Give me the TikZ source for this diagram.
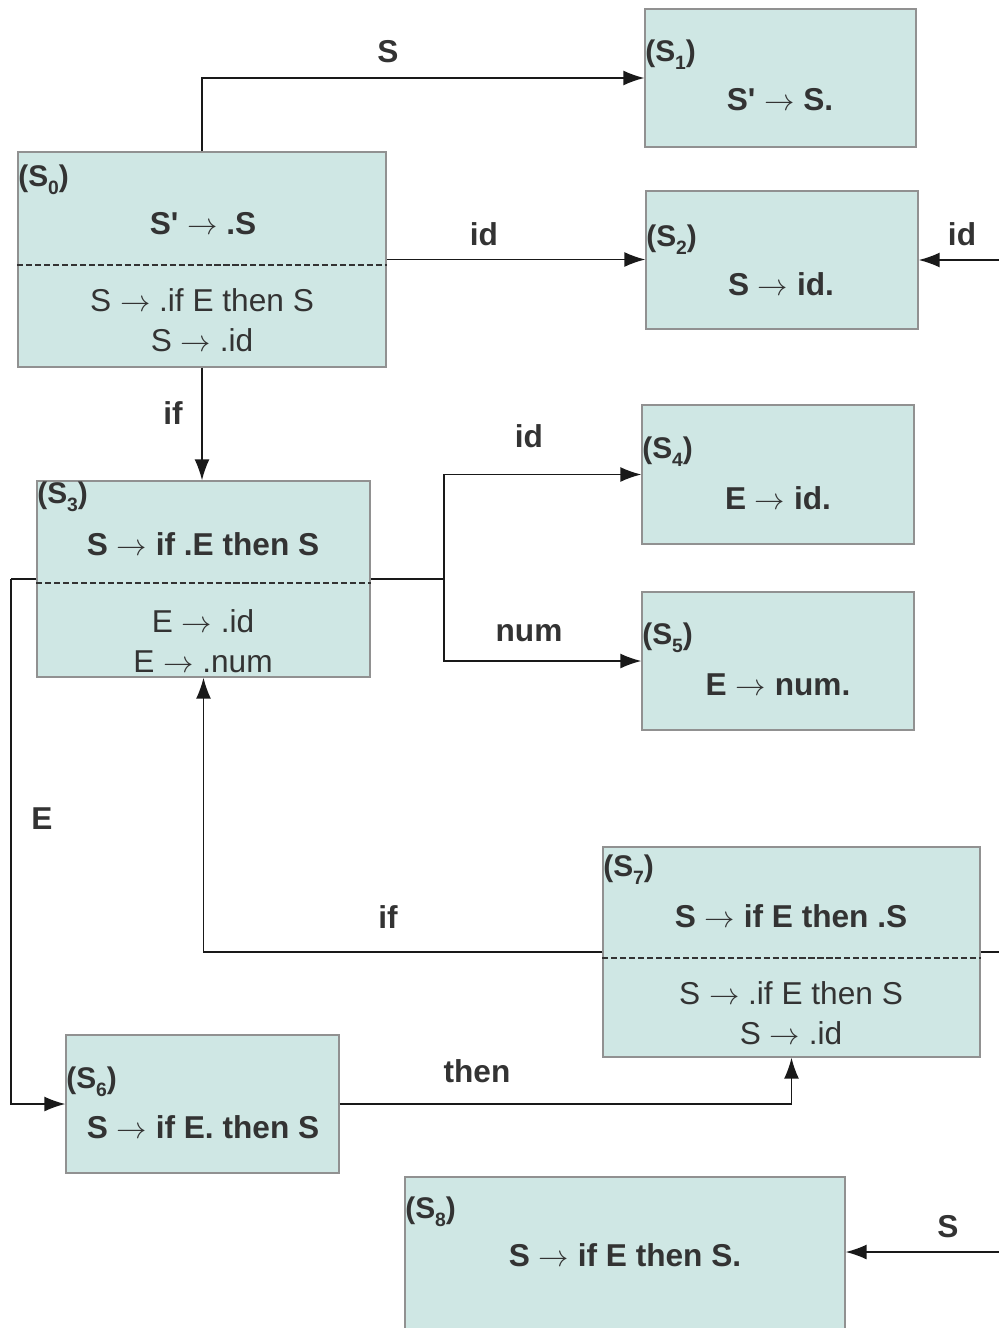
\documentclass[tikz,border=0pt]{standalone}
\usepackage{fontspec}
\setmainfont{Liberation Sans}
\usetikzlibrary{arrows.meta}

\definecolor{boxfill}{RGB}{207,231,228}
\definecolor{boxline}{RGB}{145,145,145}
\definecolor{ink}{RGB}{51,51,51}

\newcommand{\yields}{\ensuremath{\rightarrow}}
\newcommand{\prm}{\textquotesingle}
\newcommand{\stno}[1]{(S\raisebox{-0.5ex}{\fontsize{11}{11}\selectfont #1})}

\tikzset{
  state/.style={draw=boxline, fill=boxfill, line width=0.8pt, inner sep=0pt},
  tag/.style={anchor=west, inner sep=0pt, text=ink, font=\bfseries\fontsize{17}{20}\selectfont},
  head/.style={inner sep=0pt, text=ink, font=\bfseries\fontsize{18}{20}\selectfont},
  items/.style={inner sep=0pt, text=ink, align=center, font=\fontsize{18}{22.7}\selectfont},
  lbl/.style={inner sep=0pt, text=ink, font=\bfseries\fontsize{18}{20}\selectfont},
  link/.style={line width=0.85pt, draw=black!90},
  go/.style={link, -{Latex[length=0.42cm,width=0.3cm]}},
  cut/.style={draw=ink, line width=1.1pt, dash pattern=on 3.5pt off 1.6pt}
}

\begin{document}
\begin{tikzpicture}[x=0.02cm, y=-0.02cm]
    \useasboundingbox (0,0) rectangle (999,1328);

    % states
    \node[state, minimum width=7.36cm, minimum height=4.3cm] (s0) at (202,259.5) {};
    \node[state, minimum width=5.42cm, minimum height=2.76cm] (s1) at (780.5,78) {};
    \node[state, minimum width=5.44cm, minimum height=2.76cm] (s2) at (782,260) {};
    \node[state, minimum width=6.66cm, minimum height=3.92cm] (s3) at (203.5,579) {};
    \node[state, minimum width=5.44cm, minimum height=2.78cm] (s4) at (778,474.5) {};
    \node[state, minimum width=5.44cm, minimum height=2.76cm] (s5) at (778,661) {};
    \node[state, minimum width=5.46cm, minimum height=2.76cm] (s6) at (202.5,1104) {};
    \node[state, minimum width=7.54cm, minimum height=4.2cm] (s7) at (791.5,952) {};
    \node[state, minimum width=8.8cm, minimum height=3.4cm] (s8) at (625,1262) {};

    % kernel / closure separators
    \draw[cut] (s0.west |- 0,265) -- (s0.east |- 0,265);
    \draw[cut] (s3.west |- 0,583) -- (s3.east |- 0,583);
    \draw[cut] (s7.west |- 0,958) -- (s7.east |- 0,958);

    % S0
    \node[tag] (t0) at (18,180) {\stno{0}};
    \node[head] (h0) at (203,224) {S\prm{} \yields{} .S};
    \node[items] (i0) at (202,320) {S \yields{} .if E then S\\S \yields{} .id};
    % S1, S2
    \node[tag] (t1) at (645,55) {\stno{1}};
    \node[head] (h1) at (780,100) {S\prm{} \yields{} S.};
    \node[tag] (t2) at (646,240) {\stno{2}};
    \node[head] (h2) at (781,284) {S \yields{} id.};
    % S3
    \node[tag] (t3) at (37,497) {\stno{3}};
    \node[head] (h3) at (203,544) {S \yields{} if .E then S};
    \node[items] (i3) at (203,641) {E \yields{} .id\\E \yields{} .num};
    % S4, S5
    \node[tag] (t4) at (642,452) {\stno{4}};
    \node[head] (h4) at (778,498) {E \yields{} id.};
    \node[tag] (t5) at (642,638) {\stno{5}};
    \node[head] (h5) at (778,685) {E \yields{} num.};
    % S6
    \node[tag] (t6) at (66,1082) {\stno{6}};
    \node[head] (h6) at (203,1127) {S \yields{} if E. then S};
    % S7
    \node[tag] (t7) at (603,870) {\stno{7}};
    \node[head] (h7) at (791,916) {S \yields{} if E then .S};
    \node[items] (i7) at (791,1013) {S \yields{} .if E then S\\S \yields{} .id};
    % S8
    \node[tag] (t8) at (405,1212) {\stno{8}};
    \node[head] (h8) at (625,1255) {S \yields{} if E then S.};

    % free ends and bends
    \coordinate (in2) at (999,260);
    \coordinate (in8) at (999,1252);
    \coordinate (out7) at (999,952);
    \coordinate (fork) at (444,579);
    \coordinate (loop) at (11,579);

    % transitions
    \draw[go] (s0.north) |- (s1.west);
    \draw[go] (s0.east) -- (s0.east -| s2.west);
    \draw[go] (in2) -- (s2.east);
    \draw[go] (s0.south) -- (s0.south |- s3.north);
    \draw[link] (s3.east) -- (fork);
    \draw[go] (fork) |- (s4.west);
    \draw[go] (fork) |- (s5.west);
    \draw[link] (s3.west) -- (loop);
    \draw[go] (loop) |- (s6.west);
    \draw[go] (s7.west) -| (s3.south);
    \draw[link] (s7.east) -- (out7);
    \draw[go] (s6.east) -| (s7.south);
    \draw[go] (in8) -- (in8 -| s8.east);

    % transition labels
    \node[lbl] (l01) at (388,52) {S};
    \node[lbl] (l02) at (484,234) {id};
    \node[lbl] (lx2) at (962,234) {id};
    \node[lbl] (l03) at (173,413) {if};
    \node[lbl] (l34) at (529,436) {id};
    \node[lbl] (l35) at (529,633) {num};
    \node[lbl] (l36) at (42,819) {E};
    \node[lbl] (l73) at (388,917) {if};
    \node[lbl] (l67) at (477,1071) {then};
    \node[lbl] (lx8) at (948,1227) {S};
\end{tikzpicture}
\end{document}
